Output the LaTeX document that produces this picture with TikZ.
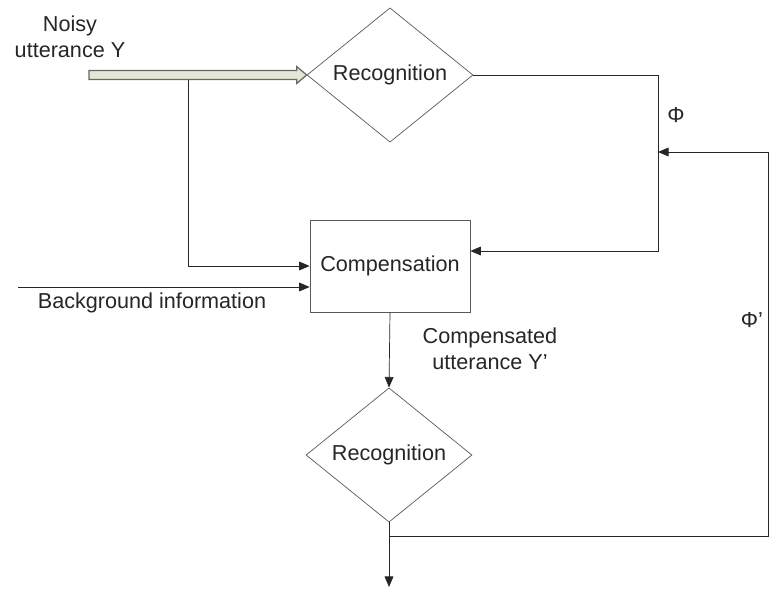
\documentclass[tikz,border=0pt]{standalone}
\usepackage{fontspec}
\setmainfont{Liberation Sans}
\usetikzlibrary{shapes.geometric,arrows.meta,calc}
\definecolor{bandfill}{RGB}{226,231,214}
\tikzset{
	recog/.style={draw=black!65,diamond,inner sep=0pt,minimum width=3.32cm,minimum height=2.48cm},
	compbox/.style={draw=black!65,rectangle,minimum width=3.2cm,minimum height=1.84cm},
	arr/.style={draw=black!85,-{Triangle[length=6pt,width=5pt]}},
	plain/.style={draw=black!85},
	hollow/.style={draw=black!60,line width=.7pt,fill=bandfill,line join=miter}
}
\begin{document}
\begin{tikzpicture}[x=0.02cm,y=-0.02cm,font=\fontsize{12.3}{14.5}\selectfont,text=black!85]
			\useasboundingbox (0,0) rectangle (770,588);
			% blocks
			\node[recog] (rec1) at (390,75) {Recognition};
			\node[compbox] (comp) at (390,266) {Compensation};
			\node[recog] (rec2) at (389,455) {Recognition};
			% labels
			\node[align=center] (noisy) at (70,37) {Noisy\\utterance Y};
			\node (bginfo) at (152,303) {Background information};
			\node[align=center] (compout) at (490,349) {Compensated\\utterance Y’};
			\node (phi) at (676,115) {Φ};
			\node (phip) at (752,320) {Φ’};
			% free ends and corners
			\coordinate (ystart) at (89,75);
			\coordinate (tap) at (188,75);
			\coordinate (bgstart) at (18,287);
			\coordinate (fb) at (658,251);
			\coordinate (phijoin) at (658,152);
			\coordinate (farR) at (768,152);
			\coordinate (farRb) at (768,536);
			\coordinate (split) at (389,536);
			\coordinate (outend) at (389,587);
			% connectors
			\draw[arr](tap) |- (comp.west);
			\draw[hollow]($(ystart)+(0,-4.5)$) -- ($(rec1.west)+(-10,-4.5)$) -- ($(rec1.west)+(-10,-8.5)$)
				-- (rec1.west) -- ($(rec1.west)+(-10,8.5)$) -- ($(rec1.west)+(-10,4.5)$)
				-- ($(ystart)+(0,4.5)$) -- cycle;
			\draw[arr](rec1.east) -| (fb) -- (comp.east |- fb);
			\draw[arr](farR) -- (phijoin);
			\draw[arr](bgstart) -- (comp.west |- bgstart);
			\draw[arr](comp.south) -- (rec2.north);
			\draw[arr](rec2.south) -- (outend);
			\draw[plain](split) -- (farRb) -- (farR);
\end{tikzpicture}
\end{document}
